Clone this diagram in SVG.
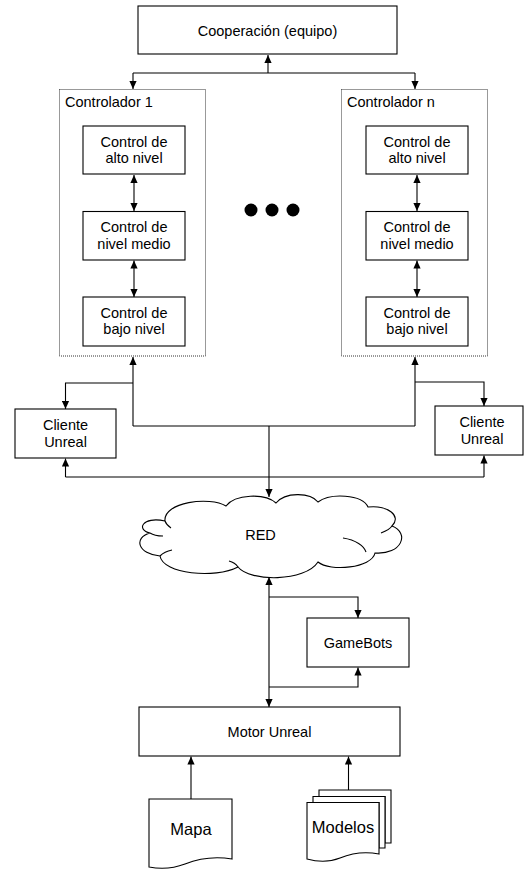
<svg xmlns="http://www.w3.org/2000/svg" width="526" height="869" viewBox="0 0 526 869">
<defs>
<marker id="arr" viewBox="0 0 8 8" markerWidth="8" markerHeight="8" refX="8" refY="4" orient="auto-start-reverse" markerUnits="userSpaceOnUse">
<path d="M0,0.4 L8,4 L0,7.6 z" fill="#000"/>
</marker>
</defs>
<style>
.box{fill:#fff;stroke:#000;stroke-width:1.1}
.dot{fill:none;stroke:#333;stroke-width:1;stroke-dasharray:1 1}
.t{font-family:"Liberation Sans",Arial,sans-serif;font-size:14.5px;fill:#000;text-anchor:middle}
.tl{font-family:"Liberation Sans",Arial,sans-serif;font-size:14.5px;fill:#000}
.tb{font-family:"Liberation Sans",Arial,sans-serif;font-size:16.5px;fill:#000;text-anchor:middle}
.c{fill:none;stroke:#000;stroke-width:1.1}
.a{marker-end:url(#arr)}
.aa{marker-end:url(#arr);marker-start:url(#arr)}
</style>
<rect width="526" height="869" fill="#fff"/>

<g id="cooperacion">
<rect class="box" x="138" y="6" width="259" height="48"/>
<text class="t" x="267.5" y="36">Cooperación (equipo)</text>
</g>

<g id="controlador1">
<rect class="dot" x="59.5" y="89.5" width="146" height="266.5"/>
<text class="tl" x="65" y="107">Controlador 1</text>
</g>
<g id="alto1">
<rect class="box" x="83" y="126" width="102" height="48"/>
<text class="t" x="134" y="146.5">Control de</text>
<text class="t" x="134" y="163">alto nivel</text>
</g>
<g id="medio1">
<rect class="box" x="83" y="211.5" width="102" height="48.5"/>
<text class="t" x="134" y="231.5">Control de</text>
<text class="t" x="134" y="248.5">nivel medio</text>
</g>
<g id="bajo1">
<rect class="box" x="83" y="297" width="102" height="49"/>
<text class="t" x="134" y="317.5">Control de</text>
<text class="t" x="134" y="334">bajo nivel</text>
</g>

<g id="controladorN">
<rect class="dot" x="341.5" y="89.5" width="146" height="266.5"/>
<text class="tl" x="347" y="107">Controlador n</text>
</g>
<g id="altoN">
<rect class="box" x="366" y="126" width="102" height="48"/>
<text class="t" x="417" y="146.5">Control de</text>
<text class="t" x="417" y="163">alto nivel</text>
</g>
<g id="medioN">
<rect class="box" x="366" y="211.5" width="102" height="48.5"/>
<text class="t" x="417" y="231.5">Control de</text>
<text class="t" x="417" y="248.5">nivel medio</text>
</g>
<g id="bajoN">
<rect class="box" x="366" y="297" width="102" height="49"/>
<text class="t" x="417" y="317.5">Control de</text>
<text class="t" x="417" y="334">bajo nivel</text>
</g>

<g id="puntos">
<circle cx="251" cy="210" r="6.5" fill="#000"/>
<circle cx="272" cy="210" r="6.5" fill="#000"/>
<circle cx="293" cy="210" r="6.5" fill="#000"/>
</g>

<g id="cliente1">
<rect class="box" x="15" y="409" width="101" height="49"/>
<text class="t" x="65.5" y="430">Cliente</text>
<text class="t" x="65.5" y="446.5">Unreal</text>
</g>
<g id="clienteN">
<rect class="box" x="435" y="406" width="88" height="49"/>
<text class="t" x="482" y="427">Cliente</text>
<text class="t" x="482" y="443.5">Unreal</text>
</g>

<g id="red">
<path class="c" d="M150,533 C136,530 142,516 165,521 C163,502 210,496 226,506 C235,494 265,493 276,503 C285,492 310,492 318,502 C330,493 362,494 368,507 C388,505 402,516 392,526 C410,533 402,555 375,553 C372,568 330,572 318,562 C305,582 250,582 238,567 C215,579 163,574 160,556 C138,554 133,538 150,533 Z"/>
<path class="c" d="M165,521 C166,524 168,526 171,528"/>
<path class="c" d="M150,533 C153,535 158,536 163,536"/>
<path class="c" d="M160,556 C163,553 167,551 172,550"/>
<path class="c" d="M343,538 C356,540 364,546 366,552"/>
<path class="c" d="M392,526 C390,529 386,531 381,533"/>
<path class="c" d="M238,567 C236,564 233,562 229,561"/>
<text class="t" x="260.5" y="540">RED</text>
</g>

<g id="gamebots">
<rect class="box" x="307" y="618" width="102" height="49"/>
<text class="t" x="358" y="648">GameBots</text>
</g>

<g id="motor">
<rect class="box" x="139" y="707" width="261" height="49"/>
<text class="t" x="269.5" y="737">Motor Unreal</text>
</g>

<g id="mapa">
<path class="box" d="M149,799 H232 V859 C214,856 200,858 185,864 C172,869 160,869 149,867 Z"/>
<text class="tb" x="191" y="835">Mapa</text>
</g>

<g id="modelos">
<path class="box" d="M319,790 H391 V843 L385,843 V796.5 L319,796.5 Z"/>
<path class="box" d="M313,796.5 H385 V848 L379,848 V802.5 L313,802.5 Z"/>
<path class="box" d="M307,802.5 H379 V854 C364,851 352,853 340,858 C330,862 318,862 307,859 Z"/>
<text class="tb" x="343" y="833">Modelos</text>
</g>

<g id="conectores">
<path class="c a" d="M268,73 V55"/>
<path class="c" d="M133,73 H415"/>
<path class="c a" d="M133,73 V89"/>
<path class="c a" d="M415,73 V89"/>

<path class="c aa" d="M134,175 V211"/>
<path class="c aa" d="M134,260.5 V297"/>
<path class="c aa" d="M417,175 V211"/>
<path class="c aa" d="M417,260.5 V297"/>

<path class="c a" d="M133,426 V357"/>
<path class="c a" d="M133,383 H65.5 V409"/>
<path class="c" d="M133,426 H415"/>
<path class="c a" d="M415,426 V357"/>
<path class="c a" d="M415,382 H484 V406"/>
<path class="c a" d="M65.5,477 V458.5"/>
<path class="c" d="M65.5,477 H484"/>
<path class="c a" d="M484,477 V455.5"/>
<path class="c a" d="M269,426 V497"/>

<path class="c aa" d="M269,577 V707"/>
<path class="c a" d="M269,597 H358 V618"/>
<path class="c a" d="M269,687 H358 V667.5"/>

<path class="c a" d="M191,799 V756.5"/>
<path class="c a" d="M348.5,790 V756.5"/>
</g>
</svg>
